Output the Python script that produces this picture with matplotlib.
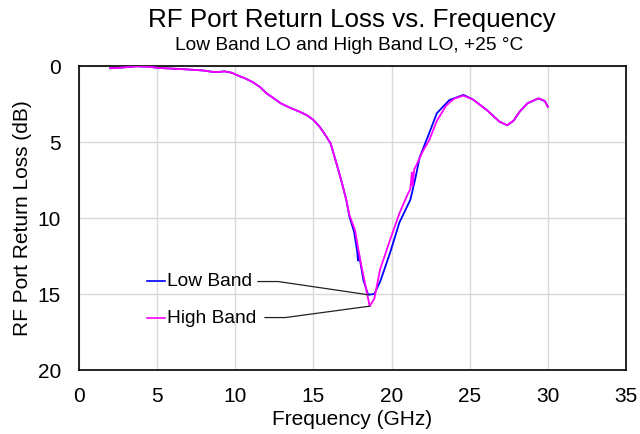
import matplotlib
matplotlib.use("Agg")
import matplotlib.pyplot as plt
import numpy as np

plt.rcParams['font.family'] = ['Liberation Sans', 'DejaVu Sans']

# Data (GHz, dB)
low_freq = [2.0, 2.5, 3.0, 3.7, 4.5, 5.0, 5.5, 6.5, 7.3, 8.0, 8.5, 8.9, 9.3, 9.8, 10.1,
            10.6, 11.1, 11.6, 12.0, 12.5, 12.9, 13.5, 14.1, 14.6, 15.0, 15.4, 15.8, 16.1,
            16.5, 16.8, 17.1, 17.3, 17.6, 17.8, 17.85, 17.9, 18.2, 18.5, 18.9, 19.3, 19.9,
            20.5, 21.2, 21.5, 21.8, 22.3, 22.9, 23.7, 24.6, 25.2, 26.1, 26.9, 27.4, 27.8,
            28.2, 28.7, 29.4, 29.8, 30.0]
low_rl = [0.15, 0.12, 0.08, 0.02, 0.05, 0.12, 0.15, 0.2, 0.25, 0.3, 0.38, 0.4, 0.35, 0.45, 0.6,
          0.8, 1.05, 1.4, 1.8, 2.15, 2.45, 2.75, 3.0, 3.25, 3.55, 4.0, 4.6, 5.1,
          6.5, 7.6, 8.8, 9.9, 10.9, 12.2, 12.8, 12.3, 14.1, 15.05, 15.0, 14.1, 12.3,
          10.3, 8.8, 7.5, 6.0, 4.7, 3.1, 2.24, 1.9, 2.2, 2.9, 3.66, 3.9, 3.6,
          3.0, 2.45, 2.13, 2.3, 2.68]

high_freq = [2.0, 2.5, 3.0, 3.7, 4.5, 5.0, 5.5, 6.5, 7.3, 8.0, 8.5, 8.9, 9.3, 9.8, 10.1,
             10.6, 11.1, 11.6, 12.0, 12.5, 12.9, 13.5, 14.1, 14.6, 15.0, 15.4, 15.8, 16.1,
             16.5, 16.8, 17.1, 17.3, 17.66, 18.0, 18.3, 18.6, 18.9, 19.26, 19.9, 20.5,
             21.0, 21.2, 21.3, 21.35, 21.45, 21.6, 22.0, 22.4, 22.9, 23.5, 24.0, 24.6,
             25.2, 26.1, 26.9, 27.4, 27.8, 28.2, 28.7, 29.4, 29.8, 30.0]
high_rl = [0.15, 0.12, 0.08, 0.02, 0.05, 0.12, 0.15, 0.2, 0.25, 0.3, 0.38, 0.4, 0.35, 0.45, 0.6,
           0.8, 1.05, 1.4, 1.8, 2.15, 2.45, 2.75, 3.0, 3.25, 3.55, 4.0, 4.6, 5.1,
           6.5, 7.6, 8.8, 9.8, 10.8, 12.8, 14.3, 15.8, 15.3, 13.4, 11.45, 9.7,
           8.5, 8.1, 7.0, 7.9, 6.8, 6.5, 5.6, 4.9, 3.6, 2.6, 2.15, 1.95,
           2.2, 2.9, 3.66, 3.9, 3.6, 3.0, 2.45, 2.13, 2.3, 2.68]

x_ticks = [0, 5, 10, 15, 20, 25, 30, 35]
y_ticks = [0, 5, 10, 15, 20]

fig = plt.figure(figsize=(6.4, 4.34), dpi=100)
ax = fig.add_axes([79/640, 1 - 370/434, (626-79)/640, (370-66)/434])

ax.plot(low_freq, low_rl, color='#0000ff', lw=1.3, zorder=3)
ax.plot(high_freq, high_rl, color='#ff00ff', lw=1.3, zorder=4)

ax.set_xlim(0, 35)
ax.set_ylim(20, 0)
ax.set_xticks(x_ticks)
ax.set_yticks(y_ticks)
ax.tick_params(length=0, labelsize=15)
ax.tick_params(axis='x', pad=12)
ax.tick_params(axis='y', pad=13)
ax.grid(True, color='#d9d9d9', lw=1)
ax.set_axisbelow(True)
for s in ax.spines.values():
    s.set_color('black')
    s.set_linewidth(1.2)

ax.set_xlabel('Frequency (GHz)', fontsize=15, labelpad=3)
ax.set_ylabel('RF Port Return Loss (dB)', fontsize=15, labelpad=4)

fig.text(352/640, 1 - 20/434, 'RF Port Return Loss vs. Frequency', ha='center', va='center', fontsize=18.7)
fig.text(349/640, 1 - 45/434, 'Low Band LO and High Band LO, +25 °C', ha='center', va='center', fontsize=13.8)

# legend-style annotations with leader lines to the minimum of each curve
i_lo = int(np.argmax(low_rl))
i_hi = int(np.argmax(high_rl))
ax.plot([4.35, 5.5], [14.15, 14.15], color='#0000ff', lw=1.2, clip_on=False)
ax.plot([4.35, 5.5], [16.6, 16.6], color='#ff00ff', lw=1.2, clip_on=False)
ax.text(5.6, 14.15, 'Low Band', fontsize=13.8, va='center', ha='left')
ax.text(5.6, 16.6, 'High Band', fontsize=13.8, va='center', ha='left')
ax.plot([11.45, 12.75, low_freq[i_lo]], [14.18, 14.18, low_rl[i_lo]], color='#222222', lw=0.9, zorder=5)
ax.plot([11.9, 13.2, high_freq[i_hi]], [16.55, 16.55, high_rl[i_hi]], color='#222222', lw=0.9, zorder=5)

fig.savefig('out.png', dpi=100)
